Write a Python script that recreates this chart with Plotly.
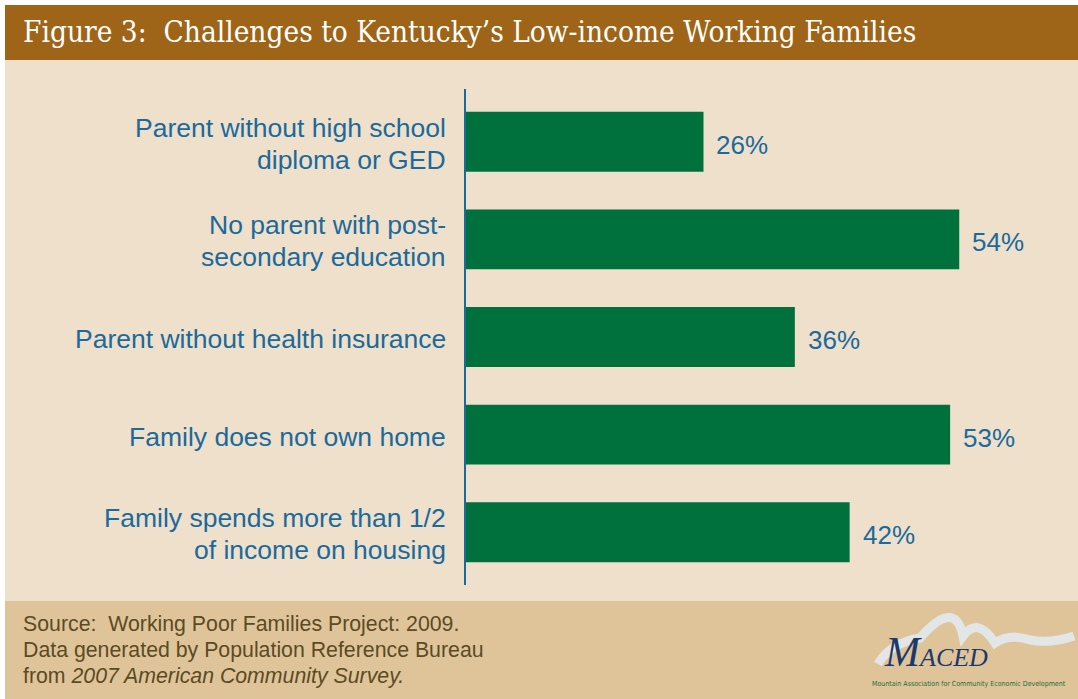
import plotly.graph_objects as go

# ---- data ----
categories = [
    "Parent without high school<br>diploma or GED",
    "No parent with post-<br>secondary education",
    "Parent without health insurance",
    "Family does not own home",
    "Family spends more than 1/2<br>of income on housing",
]
values = [26, 54, 36, 53, 42]
value_labels = ["26%", "54%", "36%", "53%", "42%"]

title_text = "Figure 3:  Challenges to Kentucky\u2019s Low-income Working Families"
source_lines = [
    "Source:  Working Poor Families Project: 2009.",
    "Data generated by Population Reference Bureau",
    "from <i>2007 American Community Survey.</i>",
]

W, H = 1078, 699
BLUE = "#1A6A9B"
GREEN = "#00703C"
BROWN = "#9E6519"
BEIGE = "#EFE0CB"
TAN = "#DFC49A"
SANS = "Liberation Sans, Arial, sans-serif"


def px(x):
    return x / W


def py(y):
    return 1 - y / H


fig = go.Figure()
fig.add_trace(go.Bar(
    x=values, y=categories, orientation="h",
    marker=dict(color=GREEN, line=dict(width=0)),
    width=0.614, hoverinfo="skip",
))

annotations = []
# value labels
for c, v, t in zip(categories, values, value_labels):
    annotations.append(dict(
        x=v, y=c, xref="x", yref="y", text=t, showarrow=False,
        xanchor="left", yanchor="middle", xshift=11, yshift=-3,
        font=dict(family=SANS, size=26, color=BLUE),
    ))
# category labels (one annotation per text line, for tight line spacing)
for c in categories:
    lines = c.split("<br>")
    n = len(lines)
    for i, line in enumerate(lines):
        annotations.append(dict(
            x=0, y=c, xref="x", yref="y", text=line, showarrow=False,
            xanchor="right", yanchor="middle", xshift=-18,
            yshift=-((i - (n - 1) / 2) * 32) - 2,
            font=dict(family=SANS, size=26.5, color=BLUE),
        ))

# title
annotations.append(dict(
    x=px(21), y=py(32), xref="paper", yref="paper", text=title_text,
    showarrow=False, xanchor="left", yanchor="middle",
    font=dict(family="DejaVu Serif Condensed, serif", size=29.5, color="white"),
))
# source lines
for i, line in enumerate(source_lines):
    annotations.append(dict(
        x=px(21), y=py(624 + i * 26), xref="paper", yref="paper", text=line,
        showarrow=False, xanchor="left", yanchor="middle",
        font=dict(family=SANS, size=21.3, color="#5B4B23"),
    ))
# logo text
annotations.append(dict(
    x=px(936), y=py(652), xref="paper", yref="paper",
    text="<i>M<span style='font-size:26px'>ACED</span></i>",
    showarrow=False, xanchor="center", yanchor="middle",
    font=dict(family="Liberation Serif, serif", size=42, color="#1B3A6B"),
))
annotations.append(dict(
    x=px(969), y=py(684), xref="paper", yref="paper",
    text="Mountain Association for Community Economic Development",
    showarrow=False, xanchor="center", yanchor="middle",
    font=dict(family="DejaVu Sans Condensed, sans-serif", size=7, color="#1E6B3A"),
))

shapes = [
    # beige panel
    dict(type="rect", xref="paper", yref="paper", x0=px(5), x1=1, y0=py(601), y1=py(60),
         fillcolor=BEIGE, line=dict(width=0), layer="below"),
    # title band
    dict(type="rect", xref="paper", yref="paper", x0=px(5), x1=1, y0=py(60), y1=py(5),
         fillcolor=BROWN, line=dict(width=0), layer="below"),
    # footer band
    dict(type="rect", xref="paper", yref="paper", x0=px(5), x1=1, y0=0, y1=py(601),
         fillcolor=TAN, line=dict(width=0), layer="below"),
    # logo swoosh
    dict(type="path", xref="paper", yref="paper", layer="below",
         path=("M {:.4f},{:.4f} Q {:.4f},{:.4f} {:.4f},{:.4f} Q {:.4f},{:.4f} {:.4f},{:.4f} "
               "Q {:.4f},{:.4f} {:.4f},{:.4f} Q {:.4f},{:.4f} {:.4f},{:.4f} Q {:.4f},{:.4f} {:.4f},{:.4f}").format(
             px(878), py(664), px(890), py(643), px(920), py(638),
             px(955), py(598), px(963), py(636),
             px(978), py(616), px(995), py(643),
             px(1010), py(633), px(1030), py(640),
             px(1050), py(644), px(1074), py(636)),
         line=dict(color="#E3E6E6", width=9)),
]

fig.update_layout(
    width=W, height=H,
    margin=dict(l=0, r=0, t=0, b=0),
    paper_bgcolor="white", plot_bgcolor="rgba(0,0,0,0)",
    showlegend=False,
    xaxis=dict(domain=[px(466), 1], range=[0, 67.0], visible=False, fixedrange=True),
    yaxis=dict(
        domain=[py(585), py(89)], autorange=False, range=[4.54, -0.54],
        categoryorder="array", categoryarray=categories,
        showline=True, linecolor=BLUE, linewidth=2, showgrid=False, zeroline=False,
        ticks="", showticklabels=False,
        fixedrange=True,
    ),
    annotations=annotations,
    shapes=shapes,
)

fig.write_html("out.html")
